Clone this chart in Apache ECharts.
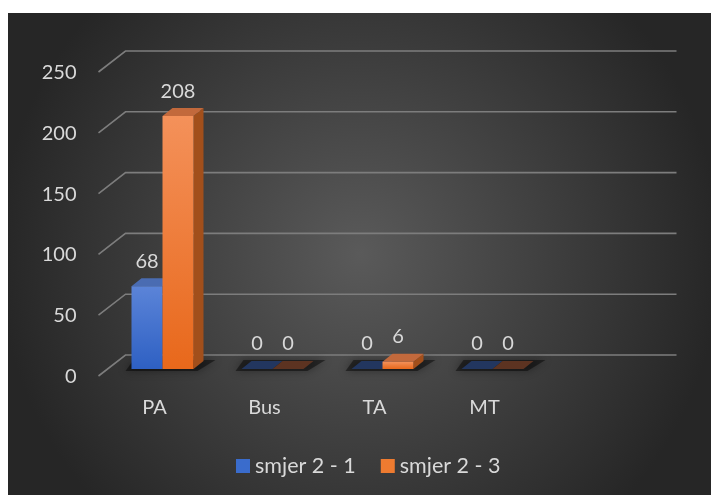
<!DOCTYPE html>
<html>
<head>
<meta charset="utf-8">
<script src="https://cdn.jsdelivr.net/npm/echarts@6/dist/echarts.min.js"></script>
<style>
  html, body { margin: 0; padding: 0; background: #ffffff; }
  #chart { position: absolute; left: 8px; top: 13px; width: 703px; height: 482px; }
</style>
</head>
<body>
<div id="chart"></div>
<script>
const categories = ['PA', 'Bus', 'TA', 'MT'];
const smjer21 = [68, 0, 0, 0];
const smjer23 = [208, 0, 6, 0];
const yTicks = [0, 50, 100, 150, 200, 250];

const FONT = 'Lato';
const TEXT = '#d9d9d9';
const DX = 10, DY = -8;   // depth of the 3d bars
const BAR_W = 31;

const blue = {
  front: { type: 'linear', x: 0, y: 0, x2: 0, y2: 1,
    colorStops: [{ offset: 0, color: '#5b84d8' }, { offset: 1, color: '#2e60c3' }] },
  side: '#2a4f98', top: '#4a6cb2', flat: '#22365f'
};
const orange = {
  front: { type: 'linear', x: 0, y: 0, x2: 0, y2: 1,
    colorStops: [{ offset: 0, color: '#f4915a' }, { offset: 1, color: '#e8681b' }] },
  side: '#a24f1b', top: '#c2693c', flat: '#5c3321'
};

// draws one 3d bar; shift = offset of bar from category centre
function barRenderer(shift, pal) {
  return function (params, api) {
    const cat = api.value(0);
    const val = api.value(1);
    const base = api.coord([cat, 0]);
    const topPt = api.coord([cat, val]);
    const x0 = base[0] + shift - BAR_W / 2;
    const x1 = x0 + BAR_W;
    const yb = base[1];
    const yt = topPt[1];
    const children = [];
    if (val > 0) {
      children.push({ type: 'polygon', shape: { points: [[x1, yt], [x1 + DX, yt + DY], [x1 + DX, yb + DY], [x1, yb]] }, style: { fill: pal.side } });
      children.push({ type: 'polygon', shape: { points: [[x0, yt], [x1, yt], [x1 + DX, yt + DY], [x0 + DX, yt + DY]] }, style: { fill: pal.top } });
      children.push({ type: 'rect', shape: { x: x0, y: yt, width: BAR_W, height: yb - yt }, style: { fill: pal.front } });
    } else {
      children.push({ type: 'polygon', shape: { points: [[x0, yb], [x1, yb], [x1 + DX, yb + DY], [x0 + DX, yb + DY]] }, style: { fill: pal.flat } });
    }
    children.push({
      type: 'text',
      style: { text: String(val), x: (x0 + x1) / 2, y: yt - 25, align: 'center', verticalAlign: 'middle',
        fill: TEXT, font: '20px ' + FONT }
    });
    return { type: 'group', children: children };
  };
}

// blurred floor shadow under each category's bars
function shadowRenderer(params, api) {
  const p = api.coord([api.value(0), 0]);
  const x0 = p[0] - BAR_W - 6, x1 = p[0] + BAR_W + 4, yb = p[1];
  return {
    type: 'polygon',
    shape: { points: [[x0, yb + 2], [x1, yb + 2], [x1 + DX + 8, yb + DY - 1], [x0 + DX - 2, yb + DY - 1]] },
    style: { fill: 'rgba(0,0,0,0.45)', shadowBlur: 8, shadowColor: 'rgba(0,0,0,0.8)' }
  };
}

// back wall gridlines with the slanted left part
function gridRenderer(params, api) {
  const cs = params.coordSys;
  const children = yTicks.map(function (v) {
    const y = api.coord([0, v])[1];
    return {
      type: 'polyline',
      shape: { points: [[cs.x - 9, y + 7], [cs.x + 18, y - 14], [cs.x + 569, y - 14]] },
      style: { stroke: '#7d7d7d', lineWidth: 1.6, fill: null }
    };
  });
  return { type: 'group', children: children };
}

const chart = echarts.init(document.getElementById('chart'));
chart.setOption({
  backgroundColor: {
    type: 'radial', x: 0.5, y: 0.5, r: 0.75,
    colorStops: [{ offset: 0, color: '#5a5a5a' }, { offset: 1, color: '#262626' }]
  },
  textStyle: { fontFamily: FONT },
  grid: { left: 99.5, width: 440, top: 52, bottom: 126 },
  xAxis: {
    type: 'category', data: categories,
    axisLine: { show: false }, axisTick: { show: false },
    axisLabel: { color: TEXT, fontSize: 20, margin: 29, padding: [0, 16, 0, 0] }
  },
  yAxis: {
    type: 'value', min: 0, max: 250, interval: 50,
    axisLine: { show: false }, axisTick: { show: false }, splitLine: { show: false },
    axisLabel: { color: TEXT, fontSize: 20, margin: 31, verticalAlign: 'top', lineHeight: 15 }
  },
  legend: {
    bottom: 13, left: 223, itemWidth: 14, itemHeight: 14, itemGap: 25,
    icon: 'rect',
    textStyle: { color: TEXT, fontSize: 21.5, fontFamily: FONT },
    data: [
      { name: 'smjer 2 - 1', itemStyle: { color: '#3a6ccc' } },
      { name: 'smjer 2 - 3', itemStyle: { color: '#ee7b30' } }
    ]
  },
  series: [
    { type: 'custom', name: 'grid', renderItem: gridRenderer, data: [[0, 0]], z: 1, silent: true },
    { type: 'custom', name: 'shadow', renderItem: shadowRenderer, z: 1.5, silent: true,
      data: categories.map(function (c, i) { return [i, 0]; }) },
    { type: 'custom', name: 'smjer 2 - 1', renderItem: barRenderer(-15.5, blue), z: 2,
      data: smjer21.map(function (v, i) { return [i, v]; }), itemStyle: { color: '#3a6ccc' } },
    { type: 'custom', name: 'smjer 2 - 3', renderItem: barRenderer(15.5, orange), z: 3,
      data: smjer23.map(function (v, i) { return [i, v]; }), itemStyle: { color: '#ee7b30' } }
  ]
});
</script>
</body>
</html>
